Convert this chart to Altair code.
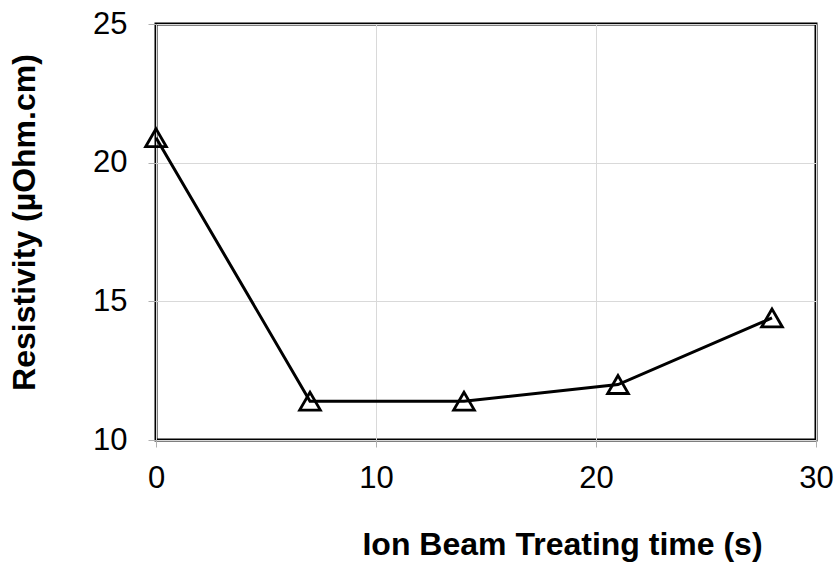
import altair as alt
import pandas as pd

time_s = [0, 7, 14, 21, 28]
resistivity = [20.9, 11.4, 11.4, 12.0, 14.4]

df = pd.DataFrame({"t": time_s, "r": resistivity})

x = alt.X("t:Q", scale=alt.Scale(domain=[0, 30], nice=False),
          axis=alt.Axis(values=[0, 10, 20, 30], title="Ion Beam Treating time (s)",
                        titleX=406, titleY=114, titleBaseline="alphabetic", titleAnchor=None,
                        labelPadding=16, tickSize=7, labelFlush=False))
y = alt.Y("r:Q", scale=alt.Scale(domain=[10, 25], nice=False, zero=False),
          axis=alt.Axis(values=[10, 15, 20, 25], title="Resistivity (µOhm.cm)",
                        titleX=-122, titleY=198, titleBaseline="alphabetic", titleAngle=-90,
                        labelPadding=21, tickSize=8, labelFlush=False))

line = alt.Chart(df).mark_line(color="black", strokeWidth=3).encode(x=x, y=y)
pts = alt.Chart(df).mark_point(shape="triangle-up", filled=False, color="black",
                               strokeWidth=2.8, size=430, opacity=1).encode(x=x, y=y)

chart = (line + pts).properties(
    width=660, height=416,
    autosize=alt.AutoSizeParams(type="none"),
    padding={"left": 156, "top": 24, "right": 22, "bottom": 124},
).configure_view(stroke="black", strokeWidth=3).configure_axis(
    labelFont="Liberation Sans", labelFontSize=31, labelColor="black",
    titleFont="Liberation Sans", titleFontSize=32, titleFontWeight="bold", titleColor="black",
    gridColor="#d9d9d9", gridWidth=1, domain=False, tickColor="#b0b0b0", tickWidth=1,
)

chart.save("out.html", embed_options={"renderer": "svg", "actions": False})
